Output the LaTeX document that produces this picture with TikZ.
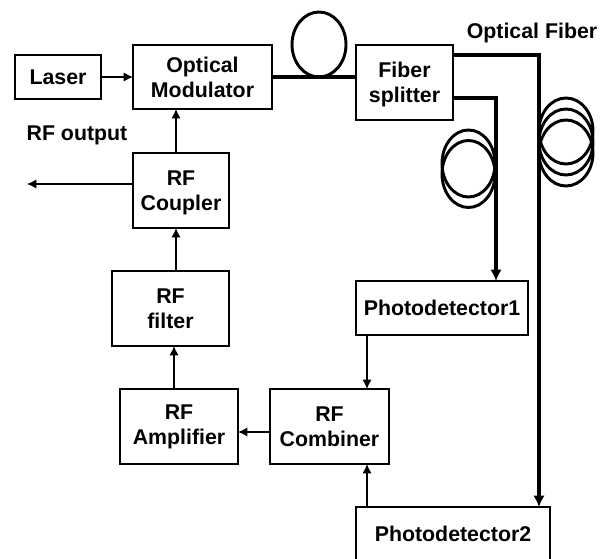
\documentclass[tikz,border=0pt]{standalone}
\usepackage{fontspec}
\setmainfont{Liberation Sans}
\usetikzlibrary{arrows.meta}
\tikzset{
  x=0.75pt,y=-0.75pt,
  blockbox/.style={draw=black,line width=1.1pt,inner sep=0pt,outer sep=0pt,align=center,
    font=\fontsize{16}{18.75}\selectfont\bfseries},
  lbl/.style={inner sep=0pt,font=\fontsize{16}{18.75}\selectfont\bfseries},
  sig/.style={line width=1.1pt,-{Latex[length=7pt,width=7pt]}},
  fiber/.style={line width=2.3pt},
  fiberarr/.style={line width=2.4pt,-{Latex[length=8.5pt,width=8.5pt]}},
  coil/.style={draw=black,line width=2.2pt},
}
\begin{document}
\begin{tikzpicture}
\useasboundingbox (0,0) rectangle (609,559);
\clip (0,0) rectangle (609,559);
\node[blockbox,minimum width=64.5pt,minimum height=33pt] (laser) at (58,77) {Laser};
\node[blockbox,minimum width=104.25pt,minimum height=48pt] (mod) at (202.5,77) {Optical\\Modulator};
\node[blockbox,minimum width=72pt,minimum height=56.25pt,text depth=0pt] (coup) at (181,190.5) {RF\\Coupler};
\node[blockbox,minimum width=87.75pt,minimum height=56.25pt] (filt) at (170.5,308.5) {RF\\filter};
\node[blockbox,minimum width=88.5pt,minimum height=56.25pt] (amp) at (179,426.5) {RF\\Amplifier};
\node[blockbox,minimum width=89.25pt,minimum height=56.25pt] (comb) at (329.5,426.5) {RF\\Combiner};
\node[blockbox,minimum width=129pt,minimum height=40.5pt] (pda) at (442,308) {Photodetector1};
\node[blockbox,minimum width=145.5pt,minimum height=40.5pt] (pdb) at (453,534) {Photodetector2};
\node[blockbox,minimum width=72.75pt,minimum height=56.25pt,text depth=0pt] (split) at (404.5,82.5) {Fiber\\splitter};
\node[lbl] (oflabel) at (532,33) {Optical Fiber};
\node[lbl] (rflabel) at (77,135) {RF output};
\coordinate (cup) at (176,0);
\coordinate (camp) at (174,0);
\coordinate (cdet) at (367,0);
\coordinate (cout) at (27,184);
\coordinate (cfa) at (496,98);
\coordinate (cfb) at (539,55);
\coordinate (ccomb) at (0,432);
% signal connectors
\draw[sig] (laser.east) -- (mod.west);
\draw[sig] (cup |- coup.north) -- (cup |- mod.south);
\draw[sig] (cup |- filt.north) -- (cup |- coup.south);
\draw[sig] (coup.west |- cout) -- (cout);
\draw[sig] (camp |- amp.north) -- (camp |- filt.south);
\draw[sig] (cdet |- pda.south) -- (cdet |- comb.north);
\draw[sig] (comb.west |- ccomb) -- (amp.east |- ccomb);
\draw[sig] (cdet |- pdb.north) -- (cdet |- comb.south);
% fibers
\draw[fiber] (mod.east) -- (split.west |- mod.east);
\draw[fiberarr] (split.east |- cfa) -- (cfa) -- (cfa |- pda.north);
\draw[fiberarr] (split.east |- cfb) -- (cfb) -- (cfb |- pdb.north);
% coils
\draw[coil] (319,44.5) ellipse [x radius=27,y radius=32.5];
\draw[coil] (468.5,163.5) ellipse [x radius=26.5,y radius=33.5];
\draw[coil] (468.5,174) ellipse [x radius=26.5,y radius=33.5];
\draw[coil] (566,131) ellipse [x radius=27,y radius=33];
\draw[coil] (566,142) ellipse [x radius=27,y radius=33];
\draw[coil] (566,153) ellipse [x radius=27,y radius=33];
\end{tikzpicture}
\end{document}
